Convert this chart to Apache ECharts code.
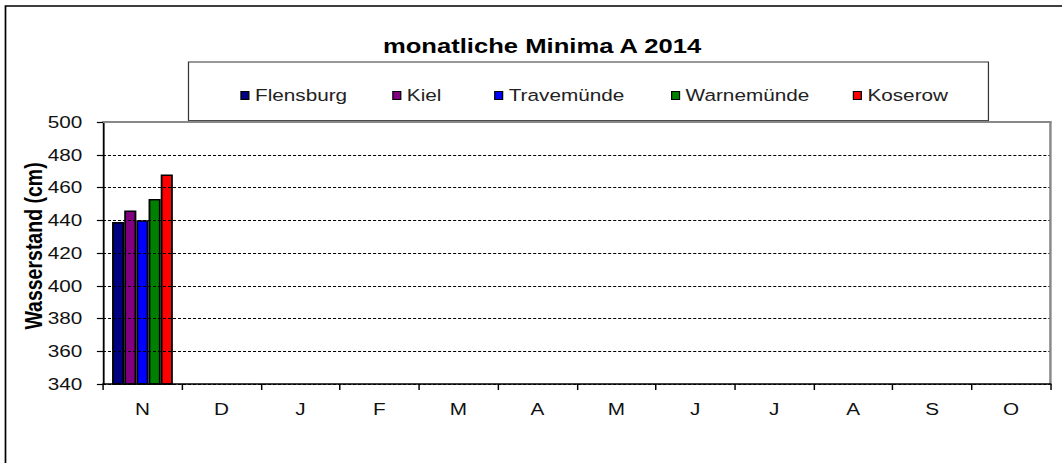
<!DOCTYPE html>
<html>
<head>
<meta charset="utf-8">
<script src="https://cdn.jsdelivr.net/npm/echarts@6/dist/echarts.min.js"></script>
<style>
  html, body { margin: 0; padding: 0; background: #fff; overflow: hidden; }
  #wrap { width: 1062px; height: 463px; overflow: hidden; }
  #c { width: 870.5px; height: 463px; transform: scaleX(1.22); transform-origin: 0 0; }
</style>
</head>
<body>
<div id="wrap"><div id="c"></div></div>
<script>
// ---- data ----
const months = ['N', 'D', 'J', 'F', 'M', 'A', 'M', 'J', 'J', 'A', 'S', 'O'];
const stations = ['Flensburg', 'Kiel', 'Travemünde', 'Warnemünde', 'Koserow'];
const flensburg  = [439, null, null, null, null, null, null, null, null, null, null, null];
const kiel       = [446, null, null, null, null, null, null, null, null, null, null, null];
const travemuende = [440, null, null, null, null, null, null, null, null, null, null, null];
const warnemuende = [453, null, null, null, null, null, null, null, null, null, null, null];
const koserow    = [468, null, null, null, null, null, null, null, null, null, null, null];
const yTicks = { min: 340, max: 500, interval: 20 };
const titleText = 'monatliche Minima A 2014';
const yName = 'Wasserstand (cm)';

// ---- styling ----
const colors = ['#000080', '#800080', '#0000FF', '#008000', '#FF0000'];
const seriesValues = [flensburg, kiel, travemuende, warnemuende, koserow];
const FONT = 'Liberation Sans, Arial, sans-serif';
const legendLefts = [192, 316.5, 400, 545, 694];

const chart = echarts.init(document.getElementById('c'), null, { renderer: 'svg' });

const option = {
  animation: false,
  backgroundColor: '#fff',
  textStyle: { fontFamily: FONT },
  grid: { left: 84.4, right: 9.8, top: 122, bottom: 79, containLabel: false },
  graphic: [
    { type: 'rect', shape: { x: 4.5, y: 6, width: 900, height: 500 },
      style: { fill: 'none', stroke: '#000', lineWidth: 1.4 }, z: 0, silent: true },
    { type: 'rect', shape: { x: 154.5, y: 62, width: 655.7, height: 58.5 },
      style: { fill: '#fff', stroke: '#333', lineWidth: 1 }, z: 1, silent: true },
    { type: 'line', shape: { x1: 154.5, y1: 121, x2: 810.2, y2: 121 },
      style: { stroke: '#555', lineWidth: 1.5 }, z: 1, silent: true },
    { type: 'text', x: 444.3, y: 46, z: 5, silent: true,
      style: { text: titleText, font: 'bold 21px ' + FONT, fill: '#000',
               align: 'center', verticalAlign: 'middle' } },
    { type: 'text', x: 28, y: 246, rotation: Math.PI / 2, z: 5, silent: true,
      style: { text: yName, font: 'bold 19.5px ' + FONT, fill: '#000',
               align: 'center', verticalAlign: 'middle' } }
  ],
  legend: stations.map((name, i) => ({
    data: [name],
    left: legendLefts[i],
    top: 82,
    itemWidth: 6.5,
    itemHeight: 8,
    icon: 'rect',
    z: 6,
    itemStyle: { borderColor: '#000', borderWidth: 1 },
    textStyle: { fontFamily: FONT, fontSize: 17, color: '#222' },
    selectedMode: false
  })),
  xAxis: [
    {
      type: 'category',
      data: months,
      position: 'bottom',
      z: 3,
      axisLine: { lineStyle: { color: '#000', width: 1.5 } },
      axisTick: { show: true, inside: false, length: 6, alignWithLabel: false,
                  lineStyle: { color: '#000', width: 1.2 } },
      axisLabel: { fontFamily: FONT, fontSize: 17, color: '#111', margin: 17, interval: 0 },
      splitLine: { show: false }
    },
    {
      type: 'category',
      data: months,
      position: 'top',
      z: 3,
      axisLine: { show: true, lineStyle: { color: '#888', width: 2 } },
      axisTick: { show: false },
      axisLabel: { show: false },
      splitLine: { show: false }
    }
  ],
  yAxis: [
    {
      type: 'value',
      min: yTicks.min,
      max: yTicks.max,
      interval: yTicks.interval,
      position: 'left',
      z: 3,
      axisLine: { show: true, lineStyle: { color: '#000', width: 1.5 } },
      axisTick: { show: true, inside: false, length: 5, lineStyle: { color: '#000', width: 1.2 } },
      axisLabel: { fontFamily: FONT, fontSize: 17, color: '#111', margin: 17 },
      splitLine: { show: true, lineStyle: { color: '#000', width: 1, type: [2.5, 1.6] } }
    },
    {
      type: 'value',
      min: yTicks.min,
      max: yTicks.max,
      interval: yTicks.interval,
      position: 'right',
      z: 3,
      axisLine: { show: true, lineStyle: { color: '#888', width: 2 } },
      axisTick: { show: false },
      axisLabel: { show: false },
      splitLine: { show: false }
    }
  ],
  series: stations.map((name, i) => ({
    name: name,
    type: 'bar',
    xAxisIndex: 0,
    yAxisIndex: 0,
    data: seriesValues[i],
    barGap: '0%',
    barCategoryGap: '23%',
    itemStyle: { color: colors[i], borderColor: '#000', borderWidth: 1.5 },
    emphasis: { disabled: true },
    z: 2
  }))
};
chart.setOption(option);
</script>
</body>
</html>
